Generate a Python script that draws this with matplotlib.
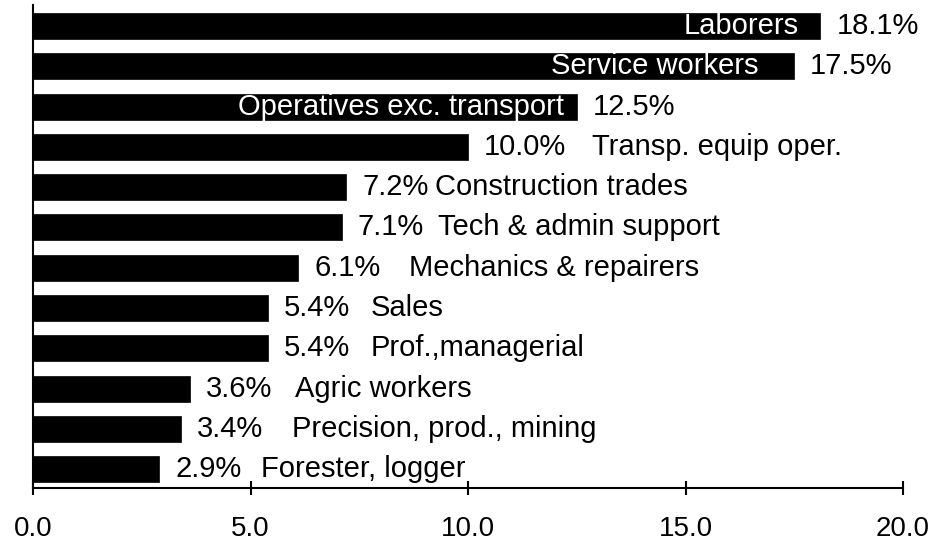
import matplotlib
matplotlib.use("Agg")
import matplotlib.pyplot as plt

categories = ["Laborers", "Service workers", "Operatives exc. transport",
              "Transp. equip oper.", "Construction trades", "Tech & admin support",
              "Mechanics & repairers", "Sales", "Prof.,managerial", "Agric workers",
              "Precision, prod., mining", "Forester, logger"]
values = [18.1, 17.5, 12.5, 10.0, 7.2, 7.1, 6.1, 5.4, 5.4, 3.6, 3.4, 2.9]
xticks = [0, 5, 10, 15, 20]
xtick_labels = ["0.0", "5.0", "10.0", "15.0", "20.0"]

# layout: which labels sit inside bars, and pixel gaps for label placement
inside = [True, True, True] + [False] * 9
inside_gap_px = [22, 36, 13]
cat_gap_px = [0, 0, 0, 108, 73, 80, 95, 87, 87, 89, 95, 86]

plt.rcParams['font.family'] = ['Liberation Sans', 'DejaVu Sans']
fig = plt.figure(figsize=(9.33, 5.44), dpi=100)
ax = fig.add_axes([33/933, 1-488/544, 870/933, 483/544])

y = list(range(len(values)))
ax.barh(y, values, height=0.646, color='black', edgecolor='black', linewidth=0.5)
ax.set_xlim(0, 20)
ax.set_ylim(11.47, -0.5215)

fs = 21
px = 72 / 100  # points per pixel
for i, (c, v) in enumerate(zip(categories, values)):
    ax.annotate(f"{v:.1f}%", (v, i), xytext=(16 * px, 0), textcoords='offset points',
                ha='left', va='center', fontsize=fs, color='black')
    if inside[i]:
        ax.annotate(c, (v, i), xytext=(-inside_gap_px[i] * px, 0), textcoords='offset points',
                    ha='right', va='center', fontsize=fs, color='white')
    else:
        ax.annotate(c, (v, i), xytext=((16 + cat_gap_px[i]) * px, 0), textcoords='offset points',
                    ha='left', va='center', fontsize=fs, color='black')

for s in ['top', 'right']:
    ax.spines[s].set_visible(False)
ax.spines['left'].set_linewidth(1.5)
ax.spines['bottom'].set_linewidth(1.5)
ax.set_yticks([])
ax.set_xticks(xticks)
ax.set_xticklabels(xtick_labels, fontsize=20)
ax.tick_params(axis='x', direction='inout', length=10, width=1.5, pad=15)

fig.savefig("out.png", dpi=100)
